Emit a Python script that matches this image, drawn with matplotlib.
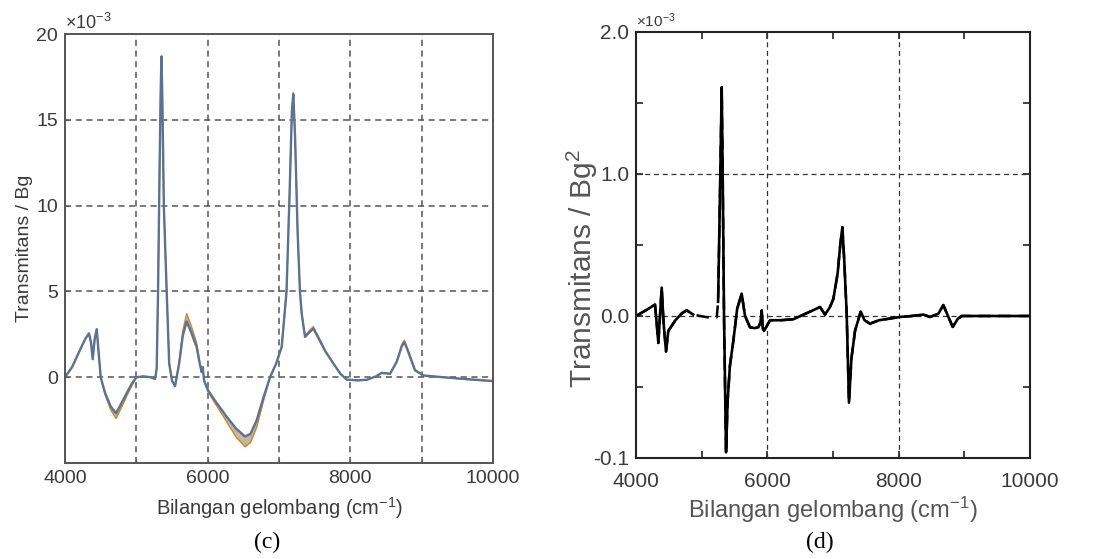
import matplotlib
matplotlib.use("Agg")
import matplotlib.pyplot as plt
import numpy as np

plt.rcParams['font.family'] = ['Liberation Sans', 'DejaVu Sans']
plt.rcParams['mathtext.fontset'] = 'custom'
plt.rcParams['mathtext.rm'] = 'Liberation Sans'
plt.rcParams['mathtext.it'] = 'Liberation Sans'

# panel (c): transmitance / Bg, values in 1e-3
wn_c = [4000, 4100, 4200, 4280, 4336, 4365, 4388, 4415, 4444, 4470, 4500, 4560, 4640,
        4715, 4780, 4864, 4940, 5000, 5100, 5200, 5262, 5285, 5304, 5325, 5340, 5352,
        5365, 5385, 5425, 5460, 5500, 5542, 5600, 5650, 5705, 5760, 5845, 5888, 5915,
        5930, 5950, 6005, 6100, 6266, 6400, 6523, 6600, 6687, 6780, 6874, 6960, 7037,
        7105, 7150, 7180, 7200, 7225, 7260, 7293, 7318, 7364, 7420, 7481, 7550, 7650,
        7762, 7860, 7949, 8100, 8229, 8360, 8440, 8556, 8650, 8720, 8757, 8800, 8906,
        9023, 9300, 9600, 10000]
trans_c = [0.0, 0.6, 1.5, 2.2, 2.56, 2.0, 1.05, 2.2, 2.8, 1.5, 0.0, -0.9, -1.7,
           -2.1, -1.6, -0.93, -0.35, 0.0, 0.05, 0.0, -0.1, 0.5, 5.0, 12.0, 16.5, 18.7,
           16.0, 10.0, 5.0, 0.8, -0.2, -0.52, 0.8, 2.4, 3.25, 2.7, 1.76, 0.8, 0.3,
           0.6, -0.2, -0.76, -1.35, -2.3, -3.0, -3.45, -3.3, -2.5, -1.2, 0.0, 0.8, 1.76,
           5.0, 11.0, 15.5, 16.5, 14.0, 8.5, 5.0, 3.7, 2.35, 2.6, 2.83, 2.3, 1.5,
           0.8, 0.2, -0.14, -0.18, -0.15, 0.05, 0.25, 0.2, 0.9, 1.8, 2.05, 1.6, 0.4,
           0.1, 0.0, -0.1, -0.22]
# outer edge of the bundle of overlapping spectra
trans_c_edge = [0.0, 0.6, 1.5, 2.2, 2.56, 2.0, 1.05, 2.2, 2.8, 1.5, 0.0, -1.0, -1.9,
                -2.4, -1.85, -1.1, -0.45, 0.0, 0.05, 0.0, -0.1, 0.5, 5.0, 12.0, 16.5, 18.7,
                16.0, 10.0, 5.0, 0.8, -0.2, -0.52, 0.9, 2.7, 3.7, 3.1, 2.0, 0.9, 0.3,
                0.6, -0.25, -0.85, -1.5, -2.6, -3.5, -4.05, -3.8, -2.9, -1.4, 0.0, 0.8, 1.76,
                5.0, 11.0, 15.5, 16.6, 14.0, 8.5, 5.0, 3.7, 2.4, 2.7, 2.95, 2.4, 1.55,
                0.8, 0.2, -0.14, -0.2, -0.15, 0.05, 0.28, 0.22, 0.95, 1.9, 2.15, 1.7, 0.45,
                0.1, 0.0, -0.12, -0.25]

# panel (d): transmitance / Bg^2
wn_d = [4000, 4150, 4289, 4305, 4340, 4365, 4391, 4420, 4457, 4492, 4600, 4700, 4772,
        4870, 4975, 5100, 5229, 5250, 5280, 5305, 5320, 5340, 5371, 5395, 5430, 5482,
        5540, 5609, 5660, 5736, 5800, 5863, 5900, 5914, 5930, 5949, 6041, 6200, 6396,
        6600, 6802, 6878, 6950, 7005, 7070, 7110, 7142, 7170, 7208, 7243, 7280, 7335,
        7421, 7480, 7563, 7700, 8020, 8200, 8375, 8477, 8604, 8680, 8750, 8823, 8900,
        8960, 9300, 10000]
trans_d = [0.0, 0.04, 0.08, 0.0, -0.19, 0.0, 0.2, -0.05, -0.25, -0.105, -0.03, 0.02, 0.04,
           0.01, 0.0, -0.01, -0.01, 0.1, 0.9, 1.61, 1.0, 0.0, -0.96, -0.6, -0.35, -0.175,
           0.05, 0.157, 0.0, -0.08, -0.085, -0.08, -0.04, 0.04, -0.09, -0.105, -0.03, -0.03, -0.023,
           0.02, 0.063, 0.01, 0.06, 0.12, 0.3, 0.5, 0.625, 0.4, 0.016, -0.61, -0.3, -0.105,
           0.03, -0.03, -0.054, -0.03, -0.007, 0.0, 0.01, -0.007, 0.016, 0.077, 0.0, -0.077, -0.02,
           0.0, 0.0, 0.0]

yticks_d = [-1.0, -0.5, 0.0, 0.5, 1.0, 1.5, 2.0]
ytick_labels_d = ['-0.1', '', '0.0', '', '1.0', '', '2.0']

txt = '#3a3a3a'
fig = plt.figure(figsize=(11.04, 5.59), dpi=100)

# ---- (c)
ax1 = fig.add_axes([0.0589, 0.1717, 0.3877, 0.7674])
ax1.fill_between(wn_c, trans_c, trans_c_edge, color='#a08a5a', alpha=0.6, lw=0)
ax1.plot(wn_c, trans_c_edge, color='#c9843a', lw=1.0)
ax1.plot(wn_c, trans_c, color='#5b7291', lw=1.7)
ax1.set_xlim(4000, 10000)
ax1.set_ylim(-5, 20)
ax1.set_xticks(range(4000, 10001, 1000))
ax1.set_xticklabels(['4000', '', '6000', '', '8000', '', '10000'])
ax1.set_yticks([0, 5, 10, 15, 20])
ax1.grid(True, ls=(0, (4, 3)), color='#555555', lw=1.1)
ax1.tick_params(direction='in', length=3, colors='#555555', labelcolor=txt, labelsize=14, pad=5)
for s in ax1.spines.values():
    s.set_color('#555555')
    s.set_linewidth(1.4)
ax1.set_xlabel('Bilangan gelombang (cm$^{-1}$)', fontsize=14.5, color=txt, labelpad=6)
ax1.set_ylabel('Transmitans / Bg', fontsize=14, color=txt)
ax1.yaxis.set_label_coords(-0.075, 0.5)
ax1.text(0.0, 1.012, r'$\times$10$^{-3}$', transform=ax1.transAxes, fontsize=13, color=txt)

# ---- (d)
wn_d_arr = np.array(wn_d)
gap = (wn_d_arr > 4870) & (wn_d_arr < 5250)
solid_d = np.where(gap, np.nan, trans_d)

ax2 = fig.add_axes([0.5761, 0.1807, 0.3569, 0.7621])
ax2.axhline(0.0, color='#333333', ls=(0, (4, 3)), lw=0.9)
ax2.axhline(1.0, color='#333333', ls=(0, (4, 3)), lw=0.9)
ax2.axvline(6000, color='#333333', ls=(0, (4, 3)), lw=0.9)
ax2.axvline(8000, color='#333333', ls=(0, (4, 3)), lw=0.9)
ax2.plot(wn_d, trans_d, color='black', lw=1.8, ls=(0, (5, 3)))
ax2.plot(wn_d, solid_d, color='black', lw=1.9)
ax2.set_xlim(4000, 10000)
ax2.set_ylim(-1.0, 2.0)
ax2.set_xticks(range(4000, 10001, 1000))
ax2.set_xticklabels(['4000', '', '6000', '', '8000', '', '10000'])
ax2.set_yticks(yticks_d)
ax2.set_yticklabels(ytick_labels_d)
ax2.tick_params(direction='in', length=5, width=1.2, top=True, right=True,
                colors='#222222', labelcolor=txt, labelsize=15, pad=5)
ax2.tick_params(axis='x', pad=10)
for s in ax2.spines.values():
    s.set_color('#222222')
    s.set_linewidth(1.5)
ax2.set_xlabel('Bilangan gelombang (cm$^{-1}$)', fontsize=17, color='#555555', labelpad=3)
ax2.set_ylabel('Transmitans / Bg$^2$', fontsize=21.5, color='#555555')
ax2.yaxis.set_label_coords(-0.092, 0.445)
ax2.text(0.0, 1.012, r'$\times$10$^{-3}$', transform=ax2.transAxes, fontsize=11, color=txt)

fig.text(0.242, 0.030, '(c)', fontsize=17, family='Liberation Serif', ha='center', va='center')
fig.text(0.743, 0.030, '(d)', fontsize=17, family='Liberation Serif', ha='center', va='center')

fig.savefig('out.png', dpi=100)
